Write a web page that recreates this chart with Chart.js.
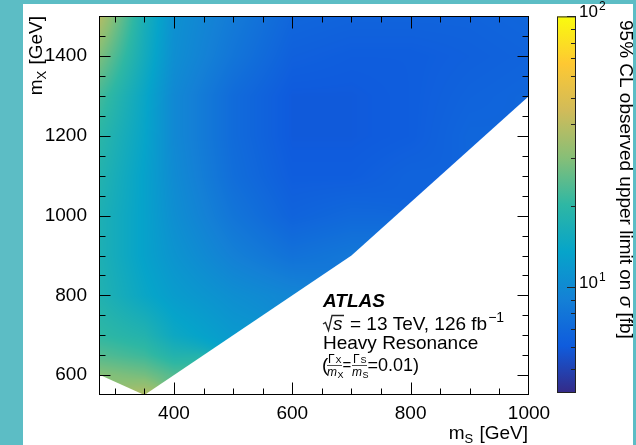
<!DOCTYPE html>
<html><head><meta charset="utf-8">
<script src="https://cdn.jsdelivr.net/npm/chart.js@4/dist/chart.umd.min.js"></script>
<style>html,body{margin:0;padding:0;background:#5cbdc5;overflow:hidden}canvas{display:block}</style>
</head><body>
<canvas id="c" width="636" height="445"></canvas>
<script>
// ---- data ----
const msGrid = [275, 350, 400, 500, 600, 700, 800, 900, 1000];            // m_S [GeV]
const mxGrid = [550, 600, 650, 700, 800, 900, 1000, 1100, 1200, 1300, 1400, 1500]; // m_X [GeV]
// observed upper limit [fb], one row per m_X, columns follow msGrid (null = not probed)
const lim550  = [null, 38,   null, null, null, null, null, null, null];
const lim600  = [30,   27.6, 23.6, null, null, null, null, null, null];
const lim650  = [23.6, 21.3, 18,   null, null, null, null, null, null];
const lim700  = [20,   18,   14.5, 11.9, null, null, null, null, null];
const lim800  = [17.6, 14,   12.3, 10.5, 9.5,  null, null, null, null];
const lim900  = [17,   13.1, 11.2, 8.9,  7.6,  8.1,  null, null, null];
const lim1000 = [17,   13.1, 10.5, 7.9,  6.5,  6.9,  null, null, null];
const lim1100 = [18,   13.1, 10.1, 7.3,  6.1,  6.1,  6.5,  null, null];
const lim1200 = [19.3, 13.6, 9.8,  7.1,  5.9,  5.9,  6.1,  6.7,  null];
const lim1300 = [22,   14,   9.8,  7.1,  5.9,  5.9,  6.1,  6.5,  6.7];
const lim1400 = [28.5, 15.5, 10.5, 7.9,  6.3,  6.1,  6.1,  6.3,  6.5];
const lim1500 = [38,   16.5, 10.8, 8.4,  6.7,  6.5,  6.5,  6.5,  6.7];
const limitGrid = [lim550, lim600, lim650, lim700, lim800, lim900, lim1000, lim1100, lim1200, lim1300, lim1400, lim1500];
// lower edge of the probed region
const boundaryMs = [275, 350, 700, 1000];
const boundaryMx = [600, 550, 900, 1300];
// axes
const xRange = [275, 1000];
const yRange = [550, 1500];
const xTicks = [400, 600, 800, 1000];
const yTicks = [600, 800, 1000, 1200, 1400];
const cbRange = [4, 100];
const cbMajor = [10, 100];
const cbMajorBase = ['10', '10'];
const cbMajorExp = ['1', '2'];
const cbMinor = [5, 6, 7, 8, 9, 20, 30, 40, 50, 60, 70, 80, 90];

// ---- palette (ROOT kBird) ----
const birdR = [0.2082, 0.0592, 0.0780, 0.0232, 0.1802, 0.5301, 0.8186, 0.9956, 0.9764];
const birdG = [0.1664, 0.3599, 0.5041, 0.6419, 0.7178, 0.7492, 0.7328, 0.7862, 0.9832];
const birdB = [0.5293, 0.8684, 0.8385, 0.7914, 0.6425, 0.4662, 0.3499, 0.1968, 0.0539];
function bird(t) {
  t = Math.max(0, Math.min(1, t));
  const n = birdR.length - 1, f = t * n, i = Math.min(n - 1, Math.floor(f)), u = f - i;
  return [birdR, birdG, birdB].map(c => Math.round(255 * (c[i] + (c[i + 1] - c[i]) * u)));
}
function seg(arr, v) { let i = 0; while (i < arr.length - 2 && v > arr[i + 1]) i++; return i; }
function logValueAt(ms, mx) {
  const i = seg(msGrid, ms), j = seg(mxGrid, mx);
  const fx = Math.max(0, Math.min(1, (ms - msGrid[i]) / (msGrid[i + 1] - msGrid[i])));
  const fy = Math.max(0, Math.min(1, (mx - mxGrid[j]) / (mxGrid[j + 1] - mxGrid[j])));
  const c = [[j, i, (1 - fx) * (1 - fy)], [j, i + 1, fx * (1 - fy)], [j + 1, i, (1 - fx) * fy], [j + 1, i + 1, fx * fy]];
  let s = 0, ws = 0;
  for (const [r, k, w] of c) { const v = limitGrid[r][k]; if (v != null && w > 0) { s += w * Math.log10(v); ws += w; } }
  if (ws === 0) { for (const [r, k] of c) { const v = limitGrid[r][k]; if (v != null) return Math.log10(v); } return null; }
  return s / ws;
}

const FONT = '"Liberation Sans", Arial, Helvetica, sans-serif';
Chart.defaults.font.family = FONT;

const bgPlugin = {
  id: 'bg',
  beforeDraw(chart) {
    const ctx = chart.ctx;
    ctx.save();
    ctx.fillStyle = '#5cbdc5'; ctx.fillRect(0, 0, chart.width, chart.height);
    ctx.fillStyle = '#ffffff'; ctx.fillRect(23, 4, 610, 441);
    ctx.restore();
  }
};

const heatPlugin = {
  id: 'heat',
  beforeDatasetsDraw(chart) {
    const { ctx, chartArea: a, scales: { x, y } } = chart;
    const w = Math.round(a.right - a.left), h = Math.round(a.bottom - a.top);
    const off = document.createElement('canvas'); off.width = w; off.height = h;
    const octx = off.getContext('2d'); const img = octx.createImageData(w, h);
    const lmin = Math.log10(cbRange[0]), lmax = Math.log10(cbRange[1]);
    for (let py = 0; py < h; py++) {
      const mx = y.getValueForPixel(a.top + py + 0.5);
      for (let px = 0; px < w; px++) {
        const ms = x.getValueForPixel(a.left + px + 0.5);
        const lv = logValueAt(ms, mx);
        if (lv === null) continue;
        const col = bird((lv - lmin) / (lmax - lmin));
        const k = (py * w + px) * 4;
        img.data[k] = col[0]; img.data[k + 1] = col[1]; img.data[k + 2] = col[2]; img.data[k + 3] = 255;
      }
    }
    octx.putImageData(img, 0, 0);
    ctx.save();
    ctx.beginPath();
    ctx.moveTo(x.getPixelForValue(xRange[0]), y.getPixelForValue(yRange[1]));
    ctx.lineTo(x.getPixelForValue(xRange[1]), y.getPixelForValue(yRange[1]));
    for (let i = boundaryMs.length - 1; i >= 0; i--) ctx.lineTo(x.getPixelForValue(boundaryMs[i]), y.getPixelForValue(boundaryMx[i]));
    ctx.closePath(); ctx.clip();
    ctx.drawImage(off, a.left, a.top);
    ctx.restore();
  }
};

function drawRich(ctx, parts, x, y, align) {
  let total = 0;
  for (const p of parts) { ctx.font = p[1]; total += ctx.measureText(p[0]).width + (p[3] || 0); }
  let cx = align === 'right' ? x - total : x;
  for (const p of parts) { ctx.font = p[1]; ctx.fillText(p[0], cx, y + (p[2] || 0)); cx += ctx.measureText(p[0]).width + (p[3] || 0); }
}

const decoPlugin = {
  id: 'deco',
  afterDraw(chart) {
    const { ctx, chartArea: a, scales: { x, y, cb } } = chart;
    ctx.save();
    ctx.strokeStyle = '#000'; ctx.lineWidth = 1;
    const L = Math.round(a.left) - 0.5, R = Math.round(a.right) - 0.5, T = Math.round(a.top) + 0.5, B = Math.round(a.bottom) - 0.5;
    ctx.strokeRect(L, T, R - L, B - T);
    ctx.beginPath();
    for (let v = 300; v < xRange[1]; v += 50) {
      const px = Math.round(x.getPixelForValue(v)) + 0.5;
      const len = xTicks.includes(v) ? 12 : 6;
      ctx.moveTo(px, B); ctx.lineTo(px, B - len);
      ctx.moveTo(px, T); ctx.lineTo(px, T + len);
    }
    for (let v = 600; v < yRange[1]; v += 50) {
      const py = Math.round(y.getPixelForValue(v)) + 0.5;
      const len = yTicks.includes(v) ? 11 : 6;
      ctx.moveTo(L, py); ctx.lineTo(L + len, py);
      ctx.moveTo(R, py); ctx.lineTo(R - len, py);
    }
    ctx.stroke();

    // colour bar
    const cL = 557, cR = 576, cT = cb.getPixelForValue(cbRange[1]), cB = cb.getPixelForValue(cbRange[0]) - 2;
    const g = ctx.createLinearGradient(0, cB, 0, cT);
    for (let i = 0; i <= 40; i++) { const c = bird(i / 40); g.addColorStop(i / 40, `rgb(${c[0]},${c[1]},${c[2]})`); }
    ctx.fillStyle = g; ctx.fillRect(cL, cT, cR - cL, cB - cT);
    ctx.strokeStyle = '#222'; ctx.strokeRect(cL + 0.5, cT + 0.5, cR - cL - 1, cB - cT - 1);
    ctx.beginPath();
    for (const v of cbMinor) { const py = Math.round(cb.getPixelForValue(v)) + 0.5; ctx.moveTo(cR, py); ctx.lineTo(cR - 5, py); }
    for (const v of cbMajor) { const py = Math.round(cb.getPixelForValue(v)) + 0.5; ctx.moveTo(cR, py); ctx.lineTo(cR - 9, py); }
    ctx.stroke();
    ctx.fillStyle = '#000'; ctx.textAlign = 'left'; ctx.textBaseline = 'alphabetic';
    cbMajor.forEach((v, i) => {
      const py = cb.getPixelForValue(v);
      ctx.font = '17px ' + FONT; ctx.fillText(cbMajorBase[i], 579, py + 1);
      const w = ctx.measureText(cbMajorBase[i]).width;
      ctx.font = '12px ' + FONT; ctx.fillText(cbMajorExp[i], 579 + w + 1, py - 6);
    });

    // axis titles
    drawRich(ctx, [['m', '19px ' + FONT], ['S', '13px ' + FONT, 4, 1], [' [GeV]', '19px ' + FONT]], 528, 439, 'right');
    ctx.save(); ctx.translate(42, 16); ctx.rotate(-Math.PI / 2);
    drawRich(ctx, [['m', '19px ' + FONT], ['X', '13px ' + FONT, 4, 1], [' [GeV]', '19px ' + FONT]], 0, 0, 'right');
    ctx.restore();
    ctx.save(); ctx.translate(620, 20); ctx.rotate(Math.PI / 2);
    drawRich(ctx, [['95% CL observed upper limit on ', '19px ' + FONT], ['σ', 'italic 19px ' + FONT], [' [fb]', '19px ' + FONT]], 0, 0, 'left');
    ctx.restore();

    // ATLAS label block
    ctx.font = 'italic bold 19px ' + FONT; ctx.fillText('ATLAS', 323, 307);
    ctx.lineWidth = 1.3; ctx.beginPath();
    ctx.moveTo(323, 324); ctx.lineTo(325.5, 322.5); ctx.lineTo(328.5, 330.5); ctx.lineTo(332, 315.5); ctx.lineTo(344, 315.5);
    ctx.stroke();
    ctx.font = 'italic 19px ' + FONT; ctx.fillText('s', 333, 330);
    ctx.font = '19px ' + FONT; ctx.fillText('= 13 TeV, 126 fb', 350, 330);
    const w2 = ctx.measureText('= 13 TeV, 126 fb').width;
    ctx.font = '14px ' + FONT; ctx.fillText('\u22121', 350 + w2 + 1, 322);
    ctx.font = '19px ' + FONT; ctx.fillText('Heavy Resonance', 323, 349);
    ctx.fillText('(', 322, 371);
    ctx.lineWidth = 0.8;
    const frac = (x0, sub) => {
      ctx.font = '12px ' + FONT; ctx.fillText('\u0393', x0 + 1, 363);
      ctx.font = '9px ' + FONT; ctx.fillText(sub, x0 + 8.5, 363);
      ctx.beginPath(); ctx.moveTo(x0, 365.5); ctx.lineTo(x0 + 15, 365.5); ctx.stroke();
      ctx.font = 'italic 12px ' + FONT; ctx.fillText('m', x0, 375.5);
      ctx.font = '9px ' + FONT; ctx.fillText(sub, x0 + 10.5, 377.5);
    };
    frac(327, 'X');
    ctx.font = '15px ' + FONT; ctx.fillText('=', 342.5, 370);
    frac(352, 'S');
    ctx.font = '18px ' + FONT; ctx.fillText('=0.01)', 367.5, 371);
    ctx.restore();
  }
};

const gridPoints = [];
mxGrid.forEach((mx, j) => msGrid.forEach((ms, i) => { if (limitGrid[j][i] != null) gridPoints.push({ x: ms, y: mx }); }));

new Chart(document.getElementById('c'), {
  type: 'scatter',
  data: { datasets: [{ data: gridPoints, pointRadius: 0, pointHoverRadius: 0, showLine: false }] },
  options: {
    responsive: false, animation: false, events: [],
    layout: { padding: { top: 15, left: 0, right: 0, bottom: 0 } },
    plugins: { legend: { display: false }, tooltip: { enabled: false } },
    scales: {
      x: {
        type: 'linear', position: 'bottom', min: xRange[0], max: xRange[1],
        grid: { display: false }, border: { display: false },
        ticks: { color: '#000', font: { size: 19, lineHeight: 1 }, padding: 1, maxRotation: 0, autoSkip: false, callback: v => String(v) },
        afterBuildTicks: s => { s.ticks = xTicks.map(v => ({ value: v })); },
        afterFit: s => { s.height = 50; }
      },
      y: {
        type: 'linear', position: 'left', min: yRange[0], max: yRange[1],
        grid: { display: false }, border: { display: false },
        ticks: { color: '#000', font: { size: 19 }, padding: 5, autoSkip: false, callback: v => String(v) },
        afterBuildTicks: s => { s.ticks = yTicks.map(v => ({ value: v })); },
        afterFit: s => { s.width = 100; }
      },
      cb: {
        type: 'logarithmic', axis: 'y', position: 'right', min: cbRange[0], max: cbRange[1],
        grid: { display: false }, border: { display: false }, ticks: { display: false },
        afterFit: s => { s.width = 107; }
      }
    }
  },
  plugins: [bgPlugin, heatPlugin, decoPlugin]
});
</script>
</body></html>
